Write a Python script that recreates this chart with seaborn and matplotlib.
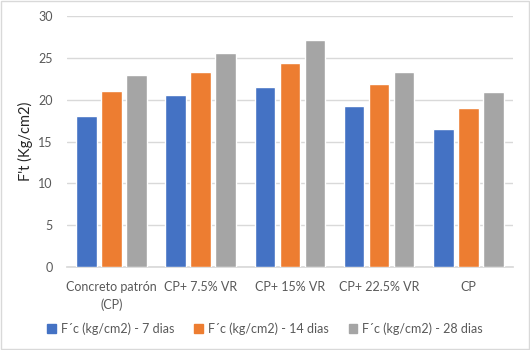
import matplotlib.pyplot as plt
import matplotlib.patches as mpatches
import seaborn as sns
import pandas as pd

C_AZUL = "#4472C4"
C_NARANJA = "#ED7D31"
C_GRIS = "#A5A5A5"
C_TEXTO = "#595959"
C_GRID = "#D9D9D9"

categorias = ["Concreto patrón\n(CP)", "CP+ 7.5% VR", "CP+ 15% VR", "CP+ 22.5% VR", "CP"]
series = ["F´c (kg/cm2) - 7 dias", "F´c (kg/cm2) - 14 dias", "F´c (kg/cm2) - 28 dias"]
dias_7 = [18.0, 20.6, 21.5, 19.2, 16.5]
dias_14 = [21.0, 23.3, 24.4, 21.9, 19.0]
dias_28 = [23.0, 25.6, 27.2, 23.3, 20.9]
yticks = [0, 5, 10, 15, 20, 25, 30]

df = pd.DataFrame({"Mezcla": categorias, series[0]: dias_7, series[1]: dias_14, series[2]: dias_28})
df = df.melt(id_vars="Mezcla", var_name="Serie", value_name="Valor")

sns.set_theme(style="white")
plt.rcParams['font.family'] = ['Lato', 'DejaVu Sans']

fig = plt.figure(figsize=(5.3, 3.5), dpi=100)
ax = fig.add_axes([0.126, 0.237, 0.842, 0.717])

sns.barplot(data=df, x="Mezcla", y="Valor", hue="Serie", order=categorias, hue_order=series,
            palette=[C_AZUL, C_NARANJA, C_GRIS], width=0.84, gap=0.18, saturation=1,
            legend=False, ax=ax, zorder=3)

ax.set_ylim(0, 30)
ax.set_yticks(yticks)
ax.set_xlim(-0.5, len(categorias) - 0.5)
ax.yaxis.grid(True, color=C_GRID, linewidth=1, zorder=0)
for lado in ["top", "right", "left"]:
    ax.spines[lado].set_visible(False)
ax.spines["bottom"].set_color(C_GRID)
ax.tick_params(axis="both", length=0, colors=C_TEXTO, labelsize=9)
ax.tick_params(axis="x", pad=10)
ax.tick_params(axis="y", pad=10)
for lbl in ax.get_xticklabels():
    lbl.set_linespacing(1.5)
ax.set_xlabel("")
ax.set_ylabel("F't (Kg/cm2)", fontsize=10.5, color="#262626", labelpad=4)

handles = [mpatches.Patch(color=c, label=s) for c, s in zip([C_AZUL, C_NARANJA, C_GRIS], series)]
fig.legend(handles=handles, loc="center", bbox_to_anchor=(0.5, 0.062), ncol=3, frameon=False,
           fontsize=9, labelcolor=C_TEXTO, handlelength=0.7, handleheight=0.7, handletextpad=0.4,
           columnspacing=1.6)

fig.patches.append(mpatches.Rectangle((0.002, 0.003), 0.996, 0.994, transform=fig.transFigure,
                                      fill=False, edgecolor=C_GRID, linewidth=1))

fig.savefig("out.png", dpi=100)
plt.close(fig)
